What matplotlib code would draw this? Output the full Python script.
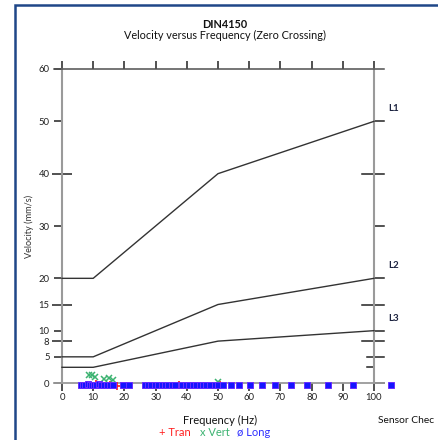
import matplotlib
matplotlib.use('Agg')
import matplotlib.pyplot as plt
from matplotlib.patches import Rectangle
from matplotlib.transforms import blended_transform_factory

plt.rcParams['font.family'] = ['Lato', 'DejaVu Sans']

# DIN4150 guideline curves
line_freq = [0, 10, 50, 100]
l1_vel = [20, 20, 40, 50]
l2_vel = [5, 5, 15, 20]
l3_vel = [3, 3, 8, 10]
line_names = ['L1', 'L2', 'L3']

# measured zero-crossing events
long_freq = [6.0, 6.8, 7.5, 8.2, 9.0, 9.6, 10.3, 11.0, 11.8, 12.6, 13.5, 14.4, 15.3, 16.2,
             19.5, 21.5, 26.5, 27.5, 28.6, 29.7, 30.8, 31.9, 33.0, 34.1, 35.2, 36.3,
             38.6, 39.7, 40.8, 41.9, 43.0, 44.1, 45.2, 46.3, 47.5, 49.0, 50.0, 51.5,
             54.1, 56.8, 60.3, 64.1, 68.3, 73.4, 78.5, 85.4, 93.2, 105.5]
long_vel = [-0.4, -0.3, -0.4, -0.2, -0.3, -0.4, -0.3, -0.4, -0.2, -0.3, -0.4, -0.3, -0.4, -0.3,
            -0.4, -0.3, -0.4, -0.4, -0.4, -0.4, -0.4, -0.4, -0.4, -0.4, -0.4, -0.4,
            -0.4, -0.4, -0.4, -0.4, -0.4, -0.4, -0.4, -0.4, -0.4, -0.4, -0.3, -0.4,
            -0.4, -0.4, -0.4, -0.4, -0.4, -0.4, -0.4, -0.4, -0.4, -0.4]
tran_freq = [8.0, 11.0, 15.5, 17.5, 37.5, 50.5]
tran_vel = [-0.3, -0.2, -0.4, -0.5, -0.4, -0.3]
vert_freq = [8.5, 9.5, 10.5, 13.5, 15.0, 16.5, 50.0]
vert_vel = [1.5, 1.6, 1.2, 0.8, 0.9, 0.5, 0.2]

xticks = list(range(0, 101, 10))
yticks_out = [0, 5, 10, 20, 30, 50, 60]
yticks_inout = [8, 15, 40]
# right side marks: (value, inner px, outer px)
right_marks = [(0, 0, 10), (3, 7, 0), (5, 7, 10), (8, 12, 10), (10, 0, 10), (15, 12, 10),
               (20, 0, 10), (30, 0, 10), (40, 12, 10), (50, 0, 10)]

W, H = 438, 440
fig = plt.figure(figsize=(W / 100, H / 100), dpi=100)
ax = fig.add_axes([62 / W, 1 - 383 / H, 312 / W, 314 / H])
ax.set_xlim(0, 100)
ax.set_ylim(0, 60)

# blue frame of the report page
fig.patches.append(Rectangle((15 / W, -0.1), 1.2, 1 - 5 / H + 0.1, transform=fig.transFigure,
                             fill=False, edgecolor='#1f4788', linewidth=1.8))

for vel in (l1_vel, l2_vel, l3_vel):
    ax.plot(line_freq, vel, color='#333333', lw=1.0, clip_on=False, zorder=3)
for name, vel in zip(line_names, (l1_vel, l2_vel, l3_vel)):
    ax.text(104.5, vel[-1] + 2.4, name, fontsize=7, fontweight='bold', color='#1c2340',
            va='center', ha='left')

ax.plot(tran_freq, tran_vel, ls='none', marker='+', ms=5.5, mew=1.2, color='#ff1a1a',
        clip_on=False, zorder=4)
ax.plot(vert_freq, vert_vel, ls='none', marker='x', ms=4.5, mew=1.1, color='#3cb371',
        clip_on=False, zorder=4)
ax.plot(long_freq, long_vel, ls='none', marker='s', ms=5, color='#1515ff',
        mec='#6a2cff', mew=0.7, clip_on=False, zorder=5)

# spines
for side in ('left', 'right'):
    ax.spines[side].set_color('#9a9a9a')
    ax.spines[side].set_linewidth(1.5)
ax.spines['top'].set_color('#505050')
ax.spines['top'].set_linewidth(1.1)
ax.spines['bottom'].set_color('#9a9a9a')
ax.spines['bottom'].set_linewidth(1.3)
ax.spines['top'].set_bounds(-8 * 100 / 312, 100 + 10 * 100 / 312)
ax.spines['bottom'].set_bounds(-8 * 100 / 312, 100 + 10 * 100 / 312)

# ticks
ax.set_xticks(xticks)
ax.set_xticklabels([str(v) for v in xticks])
ax.tick_params(axis='x', top=True, bottom=True, direction='out', length=6, width=1.1,
               color='#222222', labelsize=6.8, labelcolor='#222222', pad=1.5)
ax.set_yticks(yticks_out)
ax.set_yticklabels([str(v) for v in yticks_out])
ax.set_yticks(yticks_inout, labels=[str(v) for v in yticks_inout], minor=True)
ax.tick_params(axis='y', which='major', left=True, right=False, direction='out', length=6,
               width=1.1, color='#222222', labelsize=6.8, labelcolor='#222222', pad=3)
ax.tick_params(axis='y', which='minor', left=True, right=False, direction='inout', length=15,
               width=1.1, color='#222222', labelsize=6.8, labelcolor='#222222', pad=1.5)

tr = blended_transform_factory(ax.transAxes, ax.transData)
for val, inner, outer in right_marks:
    ax.plot([1 - inner / 312, 1 + outer / 312], [val, val], color='#222222', lw=1.1,
            transform=tr, clip_on=False, zorder=2)

# texts
fig.text(225 / W, 1 - 24.5 / H, 'DIN4150', ha='center', va='center', fontsize=7.8,
         fontweight='bold', color='#111111')
fig.text(225 / W, 1 - 35.5 / H, 'Velocity versus Frequency (Zero Crossing)', ha='center',
         va='center', fontsize=7.8, color='#111111')
fig.text(29 / W, 1 - 226 / H, 'Velocity (mm/s)', rotation=90, ha='center', va='center',
         fontsize=6.6, color='#333333')
fig.text(220 / W, 1 - 420 / H, 'Frequency (Hz)', ha='center', va='center', fontsize=8,
         color='#111111')
# the page crops this label at its right edge
fig.text(378 / W, 1 - 420 / H, 'Sensor Chec', ha='left', va='center', fontsize=7.4,
         color='#111111')
fig.text(159 / W, 1 - 432 / H, '+ Tran', ha='left', va='center', fontsize=8, color='#ff2020')
fig.text(200 / W, 1 - 432 / H, 'x Vert', ha='left', va='center', fontsize=8, color='#3cb371')
fig.text(237 / W, 1 - 432 / H, '\u00f8 Long', ha='left', va='center', fontsize=8,
         color='#3030ff')

fig.savefig('out.png', dpi=100)
